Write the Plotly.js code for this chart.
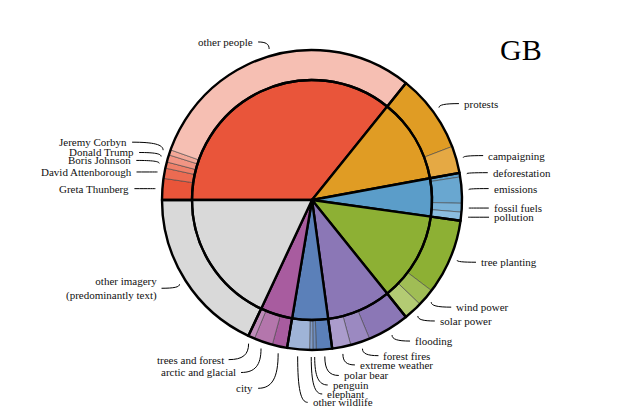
<!DOCTYPE html>
<html>
<head>
<meta charset="utf-8">
<script src="https://cdn.plot.ly/plotly-3.0.1.min.js"></script>
<style>
  html, body { margin: 0; padding: 0; background: #fff; }
  #chart { width: 623px; height: 415px; }
</style>
</head>
<body>
<div id="chart"></div>
<script>
// inner ring categories
const GROUPS = ["people", "activism", "causes", "solutions", "impacts", "animals", "places", "other imagery"];

// outer ring sub-categories (clockwise from 9 o'clock), share of images in %
const SUB_LABELS = [
  "Greta Thunberg", "David Attenborough", "Boris Johnson", "Donald Trump", "Jeremy Corbyn", "other people",
  "protests", "campaigning",
  "deforestation", "emissions", "fossil fuels", "pollution",
  "tree planting", "wind power", "solar power",
  "flooding", "forest fires", "extreme weather",
  "polar bear", "penguin", "elephant", "other wildlife",
  "city", "arctic and glacial", "trees and forest",
  "other imagery<br>(predominantly text)"
];
const SUB_GROUP = [0, 0, 0, 0, 0, 0, 1, 1, 2, 2, 2, 2, 3, 3, 3, 4, 4, 4, 5, 5, 5, 5, 6, 6, 6, 7];
const SUB_VALUES = [
  2.3, 1.1, 0.67, 0.78, 0.56, 30.3,
  8.4, 2.9,
  0.44, 2.8, 0.94, 0.92,
  8.1, 1.9, 2.0,
  4.5, 2.1, 2.0,
  1.7, 0.35, 0.35, 2.4,
  1.6, 2.0, 0.7,
  18.0
];

// styling
const GROUP_COLORS = ["#e9553a", "#e09c24", "#5b9dc9", "#8db034", "#8b77b6", "#5b80b9", "#a85c9f", "#d9d9d9"];
const SUB_COLORS = [
  "#e9553a", "#ec6b52", "#ef806a", "#f19584", "#f3a898", "#f6bfb3",
  "#e09c24", "#e5a944",
  "#5e9fca", "#69a7d0", "#79b2d8", "#8bbde0",
  "#8db034", "#a0bd55", "#b3cb73",
  "#8b77b6", "#9b89c1", "#ab9ccc",
  "#5b80b9", "#6d8dc0", "#7f9bc8", "#9fb4d7",
  "#a85c9f", "#b476ac", "#bf8cba",
  "#d9d9d9"
];
// text position relative to the leader tip, px
const LABEL_OFFSETS = [
  [-21, 0], [-21, 0], [-23, -3], [-22, -4], [-31, -8], [-11, -7],
  [20, -4], [20, -2],
  [21, -1], [20, -1], [20, 0], [21, 0],
  [19, 2], [20, 5], [17, 5],
  [18, 6], [16, 7], [12, 11],
  [14, 19], [13, 28], [11, 37], [10, 46],
  [-20, 35], [-20, 24], [-20, 16],
  [-18, 4]
];

const W = 623, H = 415, CX = 312, CY = 200, R_OUT = 150, R_IN = 120, R_TIP = 157;
const FONT = "'Liberation Serif', 'Times New Roman', serif";

const groupTotals = GROUPS.map((g, gi) =>
  SUB_VALUES.reduce((s, v, i) => (SUB_GROUP[i] === gi ? s + v : s), 0));

function domain(r) {
  return { x: [(CX - r) / W, (CX + r) / W], y: [(H - CY - r) / H, (H - CY + r) / H] };
}
const px = (x) => x / W;
const py = (y) => 1 - y / H;

const common = {
  type: "pie", sort: false, direction: "clockwise", rotation: -90,
  textinfo: "none", hoverinfo: "label+percent", showlegend: false,
};

const traces = [
  Object.assign({}, common, {
    values: SUB_VALUES, labels: SUB_LABELS, hole: R_IN / R_OUT, domain: domain(R_OUT),
    marker: { colors: SUB_COLORS, line: { color: "#444", width: 0.6 } },
  }),
  Object.assign({}, common, {
    values: groupTotals, labels: GROUPS, domain: domain(R_IN),
    marker: { colors: GROUP_COLORS, line: { color: "#000", width: 2.4 } },
  }),
  Object.assign({}, common, {
    values: groupTotals, labels: GROUPS.map((g) => g + " "), hole: R_IN / R_OUT, domain: domain(R_OUT),
    marker: { colors: GROUPS.map(() => "rgba(0,0,0,0)"), line: { color: "#000", width: 2.4 } },
    hoverinfo: "skip",
  }),
];

const total = SUB_VALUES.reduce((a, b) => a + b, 0);
const annotations = [];
const shapes = [];
let cum = 0;
SUB_VALUES.forEach((v, i) => {
  const a0 = 180 - (360 * cum) / total;
  cum += v;
  const a1 = 180 - (360 * cum) / total;
  const mid = ((a0 + a1) / 2) * Math.PI / 180;
  const tx = CX + R_TIP * Math.cos(mid);
  const ty = CY - R_TIP * Math.sin(mid);
  const [dx, dy] = LABEL_OFFSETS[i];
  const ex = tx + dx, ey = ty + dy;
  const s = dx >= 0 ? 1 : -1;
  const c1x = tx, c1y = ty + 0.7 * (ey - ty);
  const c2x = tx + 0.3 * (ex - tx), c2y = ey;
  shapes.push({
    type: "path", xref: "paper", yref: "paper",
    path: `M ${px(tx)} ${py(ty)} C ${px(c1x)} ${py(c1y)} ${px(c2x)} ${py(c2y)} ${px(ex)} ${py(ey)}`,
    line: { color: "#000", width: 1 },
  });
  annotations.push({
    xref: "paper", yref: "paper", x: px(ex + s * 3), y: py(ey),
    xanchor: s > 0 ? "left" : "right", yanchor: "middle",
    align: s > 0 ? "left" : "right",
    text: SUB_LABELS[i], showarrow: false,
    font: { family: FONT, size: 11, color: "#111" },
  });
});

annotations.push({
  xref: "paper", yref: "paper", x: px(544), y: py(50),
  xanchor: "right", yanchor: "middle", text: "GB", showarrow: false,
  font: { family: FONT, size: 30, color: "#000" },
});

Plotly.newPlot("chart", traces, {
  width: W, height: H,
  margin: { l: 0, r: 0, t: 0, b: 0 },
  paper_bgcolor: "#fff",
  showlegend: false,
  annotations, shapes,
}, { displayModeBar: false, staticPlot: true });
</script>
</body>
</html>
